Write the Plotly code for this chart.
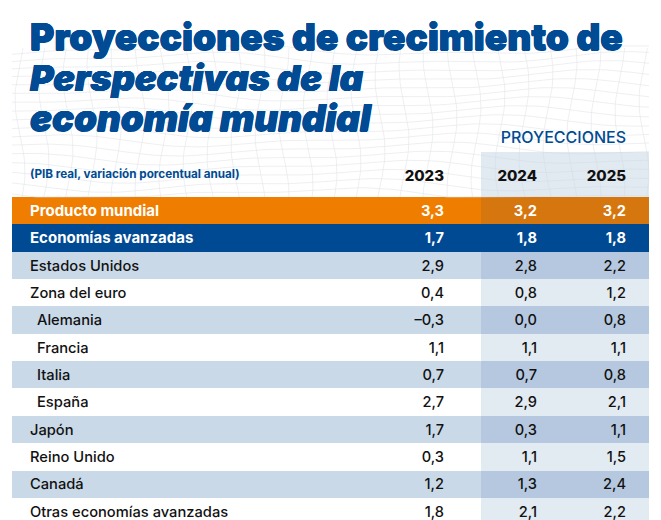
import numpy as np
import plotly.graph_objects as go

# ---- data ----
rows = ["Producto mundial", "Economías avanzadas", "Estados Unidos", "Zona del euro",
        "Alemania", "Francia", "Italia", "España", "Japón", "Reino Unido", "Canadá",
        "Otras economías avanzadas"]
indented = ["Alemania", "Francia", "Italia", "España"]
years = ["2023", "2024", "2025"]
v2023 = ["3,3", "1,7", "2,9", "0,4", "–0,3", "1,1", "0,7", "2,7", "1,7", "0,3", "1,2", "1,8"]
v2024 = ["3,2", "1,8", "2,8", "0,8", "0,0", "1,1", "0,7", "2,9", "0,3", "1,1", "1,3", "2,1"]
v2025 = ["3,2", "1,8", "2,2", "1,2", "0,8", "1,1", "0,8", "2,1", "1,1", "1,5", "2,4", "2,2"]
values = [v2023, v2024, v2025]
title_lines = [("Proyecciones de crecimiento de", "normal"),
               ("Perspectivas de la", "italic"),
               ("economía mundial", "italic")]
subtitle = "(PIB real, variación porcentual anual)"
proj_label = "PROYECCIONES"

# ---- layout constants (pixels) ----
W, H = 661, 520
ROW_TOP, ROW_H = 197, 27.35
X_LEFT, X_SPLIT, X_RIGHT = 12, 481, 649
X_LABEL, X_INDENT = 30, 37
X_NUM = [444, 537, 626]
BLUE = "#004B93"

palette = ["#EF7D00", "#D5760F", "#004A93", "#004A93", "#CAD9E8", "#B5C8DF", "#FFFFFF", "#E2EAF2"]
def style(i):
    if i == 0: return [0, 1]
    if i == 1: return [2, 3]
    return [4, 5] if i % 2 == 0 else [6, 7]
z = [style(i) for i in range(len(rows))]
n = len(palette)
cs = []
for k, c in enumerate(palette):
    cs += [[k / n, c], [(k + 1) / n, c]]

fig = go.Figure()
ys = np.arange(len(rows))
y_px = lambda p: (p - ROW_TOP) / ROW_H - 0.5

# background wire mesh (decorative texture)
def mesh():
    shapes = []
    xs = np.linspace(X_LEFT, X_RIGHT, 80)
    for y0 in np.arange(50, 197, 9):
        yy = y0 + 5*np.sin(xs/70 + y0/30) + 2.5*np.sin(xs/31 + y0/17)
        shapes.append((xs, np.clip(yy, 46, ROW_TOP)))
    yv = np.linspace(48, ROW_TOP, 30)
    for x0 in np.arange(X_LEFT + 8, X_RIGHT, 24):
        shapes.append((x0 + 5*np.sin(yv/23 + x0/50), yv))
    return shapes

for mx, my in mesh():
    fig.add_trace(go.Scatter(x=mx, y=y_px(my), mode="lines", hoverinfo="skip", showlegend=False,
                             line=dict(color="#E2E4E7", width=0.6)))

# pale header block above the projection columns
fig.add_trace(go.Scatter(x=[X_SPLIT, X_RIGHT, X_RIGHT, X_SPLIT, X_SPLIT],
                         y=[y_px(152), y_px(152), y_px(ROW_TOP), y_px(ROW_TOP), y_px(152)],
                         mode="lines", fill="toself", fillcolor="rgba(200,215,230,0.55)",
                         line=dict(width=0), hoverinfo="skip", showlegend=False))

fig.add_trace(go.Heatmap(z=z, x=[X_LEFT, X_SPLIT, X_RIGHT], y=ys, zmin=0, zmax=n, colorscale=cs,
                         showscale=False, hoverinfo="skip"))

BODY = "Inter"
def txt(x, y, t, color, size, weight=400, pos="middle left", family=BODY, style_="normal", shadow="none"):
    fig.add_trace(go.Scatter(x=x, y=y, text=t, mode="text", textposition=pos, hoverinfo="skip",
                             showlegend=False,
                             textfont=dict(family=family, size=size, color=color, weight=weight,
                                           style=style_, shadow=shadow)))

DY = 1.5 / ROW_H
for i, r in enumerate(rows):
    white = i < 2
    txt([X_INDENT if r in indented else X_LABEL], [i + DY], [r], "#FFFFFF" if white else "#111111",
        15 if white else 14.7, 700 if white else 500, "middle right")
    for c in range(3):
        txt([X_NUM[c]], [i + DY], [values[c][i]], "#FFFFFF" if white else "#111111",
            14.6, 700 if white else 500, "middle left")

for c, yr in enumerate(years):
    txt([X_NUM[c]], [y_px(177)], [yr], "#111111", 15, 800, "middle left")
txt([X_LABEL], [y_px(175)], [subtitle], BLUE, 11.7, 700, "middle right")
txt([X_NUM[2]], [y_px(139)], [proj_label], BLUE, 16, 500, "middle left")
heavy = "0.6px 0 0 #004B93, -0.4px 0 0 #004B93, 0 0.4px 0 #004B93, 0 -0.4px 0 #004B93"
for (t, st), py, sz in zip(title_lines, [41, 82, 122], [37.1, 36, 36.6]):
    txt([X_LABEL], [y_px(py)], [t], BLUE, sz, 900, "middle right", family="Inter", style_=st, shadow=heavy)

fig.update_layout(
    width=W, height=H, margin=dict(l=0, r=0, t=0, b=0), paper_bgcolor="#FFFFFF", plot_bgcolor="#FFFFFF",
    showlegend=False,
    xaxis=dict(range=[0, W], visible=False, fixedrange=True),
    yaxis=dict(range=[y_px(H), y_px(0)], visible=False, fixedrange=True),
)
fig.write_html("out.html", post_script="document.body.style.margin='0';", config={"displayModeBar": False})
